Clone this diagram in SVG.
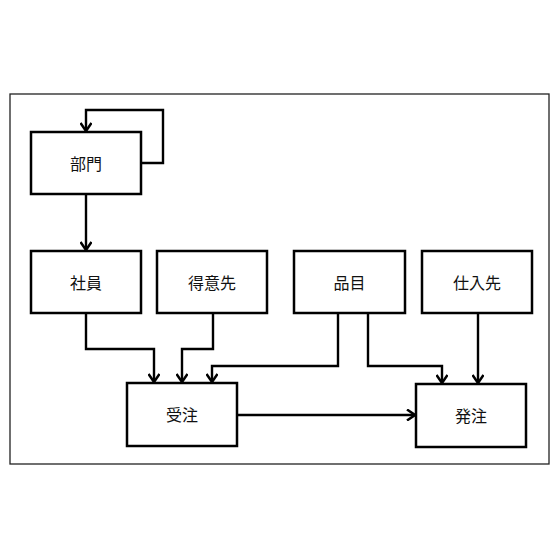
<svg xmlns="http://www.w3.org/2000/svg" width="560" height="560" viewBox="0 0 560 560">
<defs>
<marker id="arr" markerWidth="12" markerHeight="12" viewBox="0 0 12 12" refX="10" refY="6" orient="auto" markerUnits="userSpaceOnUse">
<path d="M2,0.5 L10,6 L2,11.5" fill="none" stroke="#000" stroke-width="2.5"/>
</marker>
<style>
.frame{fill:#fff;stroke:#222;stroke-width:1.3}
.box{fill:#fff;stroke:#000;stroke-width:2.5}
.lbl{font-family:"Noto Sans CJK JP","Noto Sans CJK SC",sans-serif;font-size:16px;fill:#111;text-anchor:middle;dominant-baseline:central}
.edge{fill:none;stroke:#000;stroke-width:2.4;marker-end:url(#arr)}
</style>
</defs>
<rect width="560" height="560" fill="#fff"/>
<rect class="frame" x="10" y="94" width="539" height="370"/>
<g id="connectors">
<path class="edge" d="M141,163 H163 V110 H86 V131"/>
<path class="edge" d="M86,194 V250"/>
<path class="edge" d="M86,313 V349 H154 V382"/>
<path class="edge" d="M213,313 V349 H182 V382"/>
<path class="edge" d="M338,313 V366 H212 V382"/>
<path class="edge" d="M368,313 V366 H442 V383"/>
<path class="edge" d="M478,313 V383"/>
<path class="edge" d="M237,415 H415"/>
</g>
<g id="bumon"><rect class="box" x="31" y="132" width="110" height="62"/><text class="lbl" x="86" y="163">部門</text></g>
<g id="shain"><rect class="box" x="31" y="251" width="110" height="62"/><text class="lbl" x="86" y="282">社員</text></g>
<g id="tokuisaki"><rect class="box" x="157" y="251" width="110" height="62"/><text class="lbl" x="212" y="282">得意先</text></g>
<g id="hinmoku"><rect class="box" x="294" y="251" width="111" height="62"/><text class="lbl" x="349.5" y="282">品目</text></g>
<g id="shiiresaki"><rect class="box" x="422" y="251" width="110" height="62"/><text class="lbl" x="477" y="282">仕入先</text></g>
<g id="juchu"><rect class="box" x="127" y="383" width="110" height="63"/><text class="lbl" x="182" y="414">受注</text></g>
<g id="hatchu"><rect class="box" x="416" y="384" width="110" height="63"/><text class="lbl" x="471" y="415">発注</text></g>
</svg>
